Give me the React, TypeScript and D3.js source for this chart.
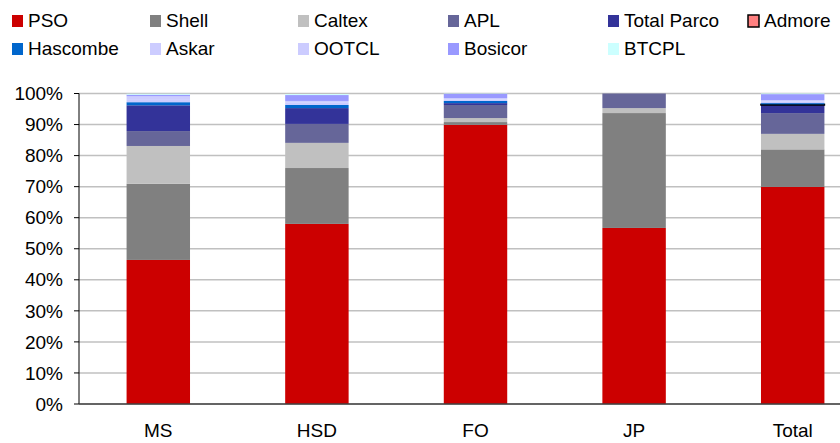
import React from "react";
import * as d3 from "d3";

const categories = ["MS", "HSD", "FO", "JP", "Total"];
const seriesNames = ["PSO", "Shell", "Caltex", "APL", "Total Parco", "Admore", "Hascombe", "Askar", "OOTCL", "Bosicor", "BTCPL"];
const seriesColors = ["#cc0000", "#808080", "#c0c0c0", "#666699", "#333399", "#ff8080", "#0066cc", "#ccccff", "#ccccff", "#9999ff", "#ccffff"];
// values in % per category (MS, HSD, FO, JP, Total)
const PSO = [46.4, 58.0, 89.9, 56.7, 69.9];
const Shell = [24.5, 18.0, 0.9, 37.0, 12.1];
const Caltex = [12.2, 8.1, 1.3, 1.6, 5.0];
const APL = [4.8, 6.1, 4.2, 4.7, 6.7];
const TotalParco = [8.3, 5.1, 0.6, 0, 2.6];
const Admore = [0, 0, 0, 0, 0.2];
const Hascombe = [1.0, 1.0, 0.7, 0, 0.4];
const Askar = [1.0, 0.7, 0.5, 0, 0.5];
const OOTCL = [0.9, 0.6, 0.4, 0, 0.5];
const Bosicor = [0.5, 1.9, 1.4, 0, 1.9];
const BTCPL = [0.3, 0.3, 0.1, 0, 0.2];
const yTicks = [0, 10, 20, 30, 40, 50, 60, 70, 80, 90, 100];

const seriesValues = [PSO, Shell, Caltex, APL, TotalParco, Admore, Hascombe, Askar, OOTCL, Bosicor, BTCPL];

export default function App() {
  const W = 840, H = 443;
  const left = 79, right = 872, top = 93.5, bottom = 404;
  const font = "'Liberation Sans', Arial, sans-serif";
  const fs = 19;

  const x = d3.scaleBand<string>().domain(categories).range([left, right]).paddingInner(0.6).paddingOuter(0.3);
  const y = d3.scaleLinear().domain([0, 100]).range([bottom, top]);

  const rows = categories.map((c, i) => {
    const r: any = { cat: c };
    seriesNames.forEach((s, k) => (r[s] = seriesValues[k][i]));
    return r;
  });
  const stacked = d3.stack<any>().keys(seriesNames)(rows);

  const legendCols = [12, 150, 298, 448, 608, 748];

  return (
    <svg width={W} height={H} style={{ position: "absolute", left: 0, top: 0 }}>
      <rect x={0} y={0} width={W} height={H} fill="#fff" />
      {yTicks.map((t) => (
        <line key={"g" + t} x1={left} x2={W} y1={y(t)} y2={y(t)} stroke="#c0c0c0" strokeWidth={1.5} />
      ))}
      {stacked.map((layer, k) =>
        layer.map((d, i) => {
          const h = y(d[0]) - y(d[1]);
          if (h <= 0) return null;
          const isAdmore = seriesNames[k] === "Admore";
          return (
            <rect
              key={k + "-" + i}
              x={x(categories[i])!}
              y={y(d[1])}
              width={x.bandwidth()}
              height={h}
              fill={seriesColors[k]}
              stroke={isAdmore ? "#000" : "none"}
              strokeWidth={isAdmore ? 1.5 : 0}
            />
          );
        })
      )}
      <line x1={left} x2={left} y1={top} y2={bottom} stroke="#000" strokeWidth={1} />
      <line x1={left} x2={W} y1={bottom} y2={bottom} stroke="#404040" strokeWidth={1.5} />
      {yTicks.map((t) => (
        <g key={"t" + t}>
          <line x1={left - 5} x2={left} y1={y(t)} y2={y(t)} stroke="#000" />
          <text x={left - 16} y={y(t)} dy="0.35em" textAnchor="end" fontFamily={font} fontSize={fs} fill="#000">
            {t}%
          </text>
        </g>
      ))}
      {categories.map((c) => (
        <text key={c} x={x(c)! + x.bandwidth() / 2} y={437} textAnchor="middle" fontFamily={font} fontSize={fs} fill="#000">
          {c}
        </text>
      ))}
      {seriesNames.map((s, k) => {
        const row = k < 6 ? 0 : 1;
        const col = k < 6 ? k : k - 6;
        const lx = legendCols[col];
        const ly = row === 0 ? 15 : 43;
        const isAdmore = s === "Admore";
        return (
          <g key={s}>
            <rect x={lx} y={ly} width={11} height={12} fill={seriesColors[k]} stroke={isAdmore ? "#000" : "none"} strokeWidth={isAdmore ? 1.5 : 0} />
            <text x={lx + 16} y={ly + 12} fontFamily={font} fontSize={fs} fill="#000">
              {s}
            </text>
          </g>
        );
      })}
    </svg>
  );
}
